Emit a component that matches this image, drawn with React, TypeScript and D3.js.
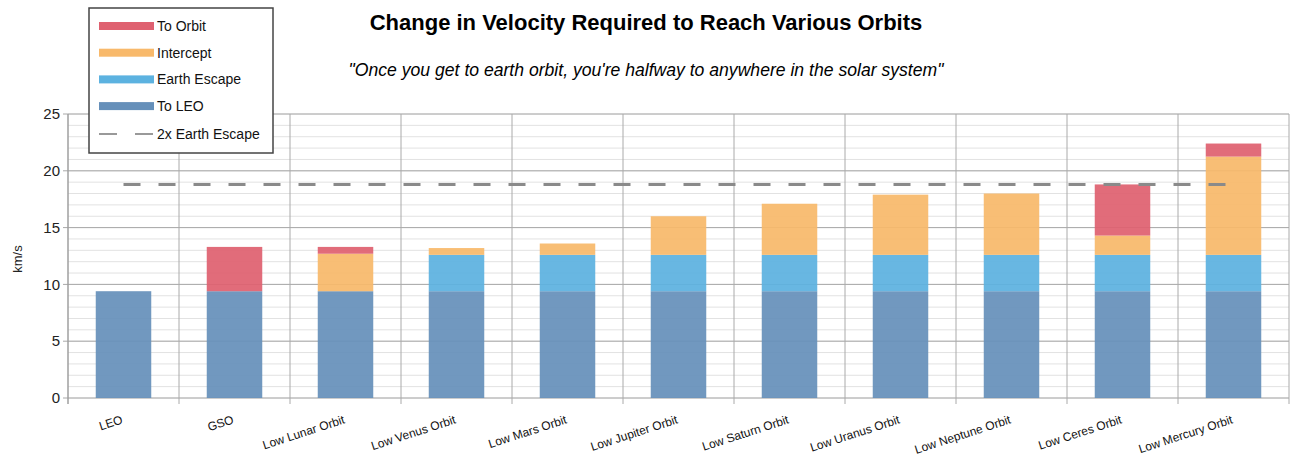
import React from "react";
import * as d3 from "d3";

const categories = [
  "LEO", "GSO", "Low Lunar Orbit", "Low Venus Orbit", "Low Mars Orbit", "Low Jupiter Orbit",
  "Low Saturn Orbit", "Low Uranus Orbit", "Low Neptune Orbit", "Low Ceres Orbit", "Low Mercury Orbit",
];
const toLEO = [9.4, 9.4, 9.4, 9.4, 9.4, 9.4, 9.4, 9.4, 9.4, 9.4, 9.4];
const earthEscape = [0, 0, 0, 3.2, 3.2, 3.2, 3.2, 3.2, 3.2, 3.2, 3.2];
const intercept = [0, 0, 3.3, 0.6, 1.0, 3.4, 4.5, 5.3, 5.4, 1.7, 8.65];
const toOrbit = [0, 3.9, 0.6, 0, 0, 0, 0, 0, 0, 4.5, 1.15];
const twoXEarthEscape = [18.8, 18.8, 18.8, 18.8, 18.8, 18.8, 18.8, 18.8, 18.8, 18.8, 18.8];
const yTicks = [0, 5, 10, 15, 20, 25];

const seriesNames = ["To LEO", "Earth Escape", "Intercept", "To Orbit"];
const seriesValues = [toLEO, earthEscape, intercept, toOrbit];
const seriesColors = ["#6690ba", "#5cb2e0", "#f8b96b", "#df6170"];

const FONT = "'Liberation Sans', Arial, sans-serif";

export default function App() {
  const W = 1292, H = 457;
  const left = 68, right = 1289, top = 114, bottom = 398;
  const x = d3.scaleBand<string>().domain(categories).range([left, right]).paddingInner(0.5).paddingOuter(0.25);
  const y = d3.scaleLinear().domain([0, 25]).range([bottom, top]);
  const step = x.step();

  const rows = categories.map((c, i) => {
    const o: any = { cat: c };
    seriesNames.forEach((s, k) => (o[s] = seriesValues[k][i]));
    return o;
  });
  const stacked = d3.stack().keys(seriesNames)(rows);

  const minor = d3.range(0, 26, 1);
  const boundaries = d3.range(0, categories.length + 1).map((i) => left + i * step);

  const line = d3
    .line<number>()
    .x((_, i) => (x(categories[i]) as number) + x.bandwidth() / 2)
    .y((v) => y(v));

  const legendItems = [
    { name: "To Orbit", color: seriesColors[3] },
    { name: "Intercept", color: seriesColors[2] },
    { name: "Earth Escape", color: seriesColors[1] },
    { name: "To LEO", color: seriesColors[0] },
  ];

  return (
    <svg width={W} height={H} style={{ position: "absolute", left: 0, top: 0, background: "#fff" }} fontFamily={FONT}>
      {/* minor grid */}
      {minor.map((v) => (
        <line key={"m" + v} x1={left} x2={right} y1={y(v)} y2={y(v)} stroke="#e2e2e2" strokeWidth={1} />
      ))}
      {/* major grid */}
      {yTicks.map((v) => (
        <line key={"M" + v} x1={left - 5} x2={right} y1={y(v)} y2={y(v)} stroke="#a8a8a8" strokeWidth={1} />
      ))}
      {/* vertical category lines */}
      {boundaries.map((bx, i) => (
        <line key={"v" + i} x1={bx} x2={bx} y1={top} y2={bottom + 6} stroke="#aaaaaa" strokeWidth={1} />
      ))}
      {/* bars */}
      {stacked.map((s, k) => (
        <g key={s.key} fill={seriesColors[k]} fillOpacity={0.93}>
          {s.map((d, i) =>
            d[1] - d[0] > 0 ? (
              <rect
                key={i}
                x={x(categories[i])}
                width={x.bandwidth()}
                y={y(d[1])}
                height={y(d[0]) - y(d[1])}
              />
            ) : null
          )}
        </g>
      ))}
      {/* 2x earth escape */}
      <path d={line(twoXEarthEscape) || ""} fill="none" stroke="#8a8a8a" strokeWidth={3} strokeDasharray="17,18" />
      {/* y axis */}
      <line x1={left} x2={left} y1={top} y2={bottom + 6} stroke="#999" strokeWidth={1} />
      {yTicks.map((v) => (
        <text key={"t" + v} x={left - 8} y={y(v)} dy="0.35em" textAnchor="end" fontSize={15} fill="#222">
          {v}
        </text>
      ))}
      <text transform={`translate(22,${(top + bottom) / 2 + 3}) rotate(-90)`} textAnchor="middle" fontSize={13} fill="#222">
        km/s
      </text>
      {/* x labels */}
      {categories.map((c) => (
        <text
          key={c}
          transform={`translate(${(x(c) as number) + x.bandwidth() / 2},${423}) rotate(-18)`}
          textAnchor="end"
          fontSize={12}
          fill="#111"
        >
          {c}
        </text>
      ))}
      {/* title */}
      <text x={646} y={30} textAnchor="middle" fontSize={22} fontWeight="bold" fill="#000">
        Change in Velocity Required to Reach Various Orbits
      </text>
      <text x={646} y={76} textAnchor="middle" fontSize={17.6} fontStyle="italic" fill="#000">
        "Once you get to earth orbit, you're halfway to anywhere in the solar system"
      </text>
      {/* legend */}
      <rect x={89} y={8} width={184} height={145} fill="#fff" stroke="#444" strokeWidth={1.5} />
      {legendItems.map((it, i) => (
        <g key={it.name}>
          <rect x={99} y={26 + i * 26.7 - 4} width={55} height={8} fill={it.color} />
          <text x={157} y={26 + i * 26.7} dy="0.35em" fontSize={14} fill="#111">
            {it.name}
          </text>
        </g>
      ))}
      <line x1={99} x2={117} y1={134} y2={134} stroke="#999" strokeWidth={2} />
      <line x1={135} x2={153} y1={134} y2={134} stroke="#999" strokeWidth={2} />
      <text x={157} y={134} dy="0.35em" fontSize={14} fill="#111">
        2x Earth Escape
      </text>
    </svg>
  );
}
